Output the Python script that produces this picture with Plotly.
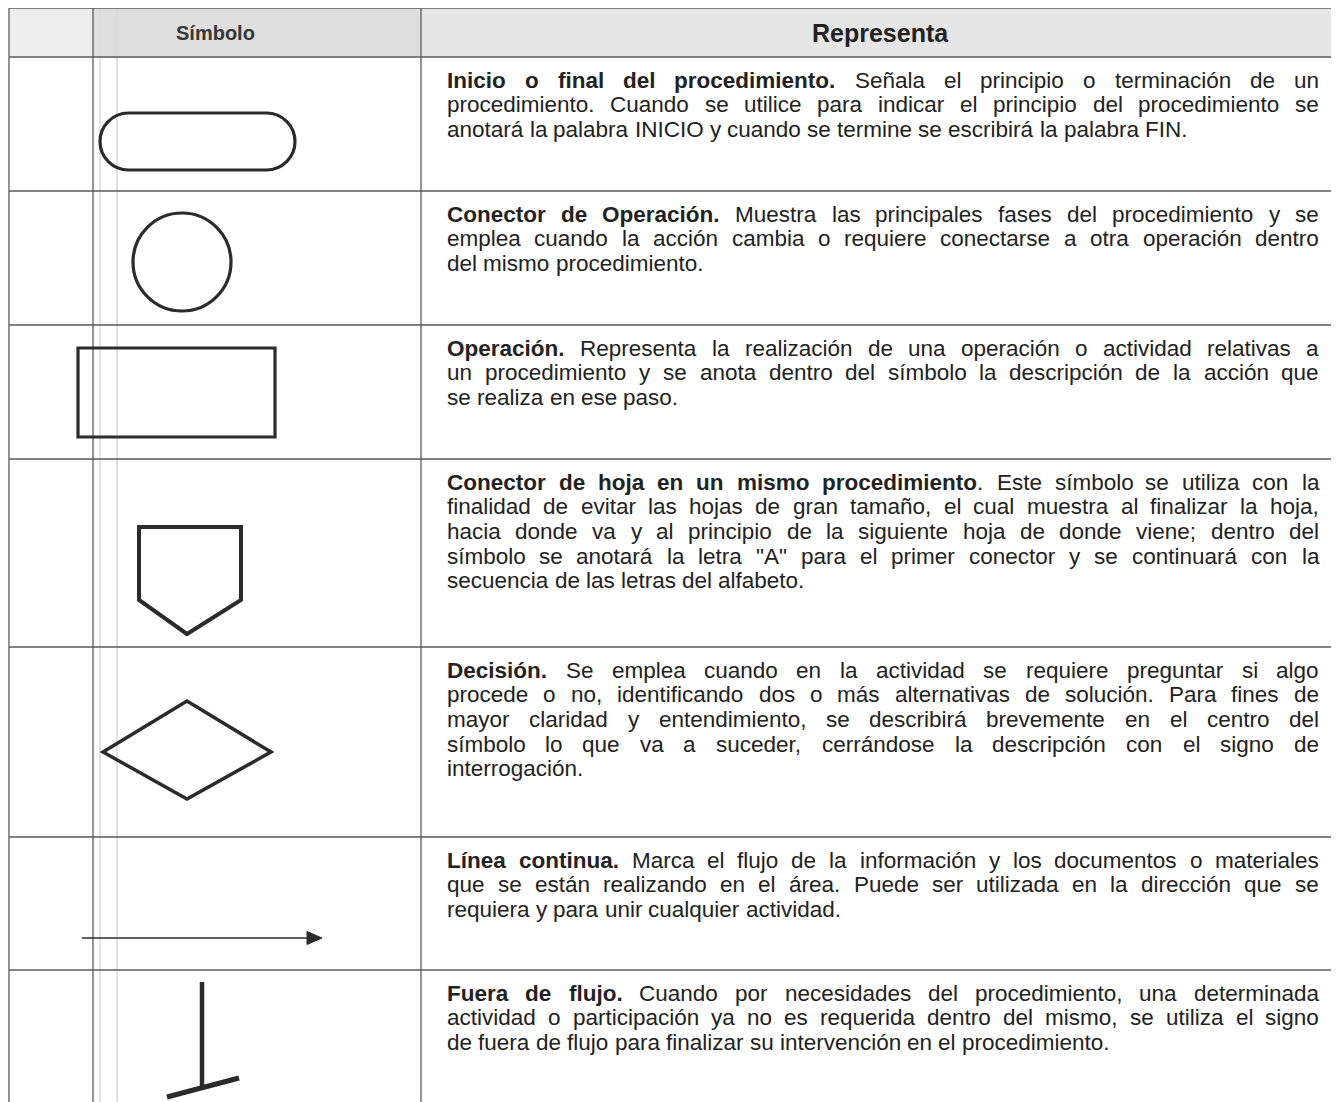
import plotly.graph_objects as go

# ---------------- data ----------------
HEADERS = ["Símbolo", "Representa"]

SYMBOLS = ["terminal", "connector", "process", "offpage", "decision", "flowline", "outflow"]

DESCRIPTIONS = [
    ["**Inicio o final del procedimiento.** Señala el principio o terminación de un",
     "procedimiento. Cuando se utilice para indicar el principio del procedimiento se",
     "anotará la palabra INICIO y cuando se termine se escribirá la palabra FIN."],
    ["**Conector de Operación.** Muestra las principales fases del procedimiento y se",
     "emplea cuando la acción cambia o requiere conectarse a otra operación dentro",
     "del mismo procedimiento."],
    ["**Operación.** Representa la realización de una operación o actividad relativas a",
     "un procedimiento y se anota dentro del símbolo la descripción de la acción que",
     "se realiza en ese paso."],
    ["**Conector de hoja en un mismo procedimiento**. Este símbolo se utiliza con la",
     "finalidad de evitar las hojas de gran tamaño, el cual muestra al finalizar la hoja,",
     "hacia donde va y al principio de la siguiente hoja de donde viene; dentro del",
     "símbolo se anotará la letra \"A\" para el primer conector y se continuará con la",
     "secuencia de las letras del alfabeto."],
    ["**Decisión.** Se emplea cuando en la actividad se requiere preguntar si algo",
     "procede o no, identificando dos o más alternativas de solución. Para fines de",
     "mayor claridad y entendimiento, se describirá brevemente en el centro del",
     "símbolo lo que va a suceder, cerrándose la descripción con el signo de",
     "interrogación."],
    ["**Línea continua.** Marca el flujo de la información y los documentos o materiales",
     "que se están realizando en el área. Puede ser utilizada en la dirección que se",
     "requiera y para unir cualquier actividad."],
    ["**Fuera de flujo.** Cuando por necesidades del procedimiento, una determinada",
     "actividad o participación ya no es requerida dentro del mismo, se utiliza el signo",
     "de fuera de flujo para finalizar su intervención en el procedimiento."],
]

# ---------------- layout geometry (page pixels) ----------------
W, H = 1339, 1102
PAGE_MARGIN = 8          # default <body> margin of the html page
X_LEFT, X_INNER, X_DIV, X_RIGHT = 9, 93, 421, 1337
Y_TOP, Y_HEAD = 8, 57
ROW_EDGES = [57, 191, 325, 459, 647, 837, 970, 1102]
TEXT_X0, TEXT_X1 = 446, 1318
FIRST_LINE_OFFSET = 23
LINE_STEP = 24.7
FONT = "Liberation Sans, Arial, Helvetica, sans-serif"
BODY_SIZE = 22.5
INK = "#2b2b2b"
GRID = "#5a5a5a"

# Arial / Liberation Sans advance widths (1/1000 em)
_REG = dict(zip("abcdefghijklmnopqrstuvwxyz",
                [556, 556, 500, 556, 556, 278, 556, 556, 222, 222, 500, 222, 833,
                 556, 556, 556, 556, 333, 500, 278, 556, 500, 722, 500, 500, 500]))
_REG.update(dict(zip("ABCDEFGHIJKLMNOPQRSTUVWXYZ",
                     [667, 667, 722, 722, 667, 611, 778, 722, 278, 500, 667, 556, 833,
                      722, 778, 667, 778, 722, 667, 611, 722, 667, 944, 667, 667, 611])))
_REG.update({" ": 278, ".": 278, ",": 278, ";": 278, ":": 278, '"': 355, "-": 333,
             "(": 333, ")": 333})
_BOLD = dict(zip("abcdefghijklmnopqrstuvwxyz",
                 [556, 611, 556, 611, 556, 333, 611, 611, 278, 278, 556, 278, 889,
                  611, 611, 611, 611, 389, 556, 333, 611, 556, 778, 556, 556, 500]))
_BOLD.update(dict(zip("ABCDEFGHIJKLMNOPQRSTUVWXYZ",
                      [722, 722, 722, 722, 667, 611, 778, 722, 278, 556, 722, 611, 833,
                       722, 778, 667, 778, 722, 667, 611, 722, 667, 944, 667, 667, 611])))
_BOLD.update({" ": 278, ".": 278, ",": 278, ";": 333, ":": 333, '"': 474, "-": 333,
              "(": 333, ")": 333})
_ACC = {"á": "a", "é": "e", "í": "i", "ó": "o", "ú": "u", "ñ": "n",
        "Á": "A", "É": "E", "Í": "I", "Ó": "O", "Ú": "U", "Ñ": "N"}


def char_w(ch, bold):
    tab = _BOLD if bold else _REG
    ch = _ACC.get(ch, ch)
    return tab.get(ch, 556)


def parse_words(line):
    """Return list of words; each word is a list of (text, bold) chunks."""
    words, cur, bold, i = [], [], False, 0
    buf = ""
    while i < len(line):
        if line.startswith("**", i):
            if buf:
                cur.append((buf, bold))
                buf = ""
            bold = not bold
            i += 2
            continue
        ch = line[i]
        if ch == " ":
            if buf:
                cur.append((buf, bold))
                buf = ""
            if cur:
                words.append(cur)
                cur = []
        else:
            buf += ch
        i += 1
    if buf:
        cur.append((buf, bold))
    if cur:
        words.append(cur)
    return words


def word_width(word, size):
    return sum(char_w(c, b) for t, b in word for c in t) * size / 1000.0


def word_html(word):
    return "".join(f"<b>{t}</b>" if b else t for t, b in word)


annotations = []
shapes = []

# ---------------- header background ----------------
shapes.append(dict(type="rect", x0=X_LEFT, x1=X_INNER, y0=Y_TOP, y1=Y_HEAD,
                   fillcolor="#ededed", line=dict(width=0), layer="below"))
shapes.append(dict(type="rect", x0=X_INNER, x1=X_DIV, y0=Y_TOP, y1=Y_HEAD,
                   fillcolor="#dedede", line=dict(width=0), layer="below"))
shapes.append(dict(type="rect", x0=X_DIV, x1=X_RIGHT, y0=Y_TOP, y1=Y_HEAD,
                   fillcolor="#e6e6e6", line=dict(width=0), layer="below"))

# faint scanner lines
for xf in (100, 117):
    shapes.append(dict(type="line", x0=xf, x1=xf, y0=0, y1=H,
                       line=dict(color="#d8d8d8", width=1.5)))

# ---------------- grid ----------------
for yy in [Y_TOP] + ROW_EDGES[:-1]:
    shapes.append(dict(type="line", x0=X_LEFT, x1=X_RIGHT, y0=yy, y1=yy,
                       line=dict(color=GRID, width=1.3)))
for xx, ys in [(X_LEFT, Y_TOP), (X_INNER, 0), (X_DIV, Y_TOP), (X_RIGHT, Y_TOP)]:
    shapes.append(dict(type="line", x0=xx, x1=xx, y0=ys, y1=H,
                       line=dict(color=GRID, width=1.3)))

# ---------------- header text ----------------
annotations.append(dict(x=215, y=33, text="<b>" + HEADERS[0] + "</b>", showarrow=False,
                        xanchor="center", yanchor="middle",
                        font=dict(family=FONT, size=20, color="#363636")))
annotations.append(dict(x=880, y=33, text="<b>" + HEADERS[1] + "</b>", showarrow=False,
                        xanchor="center", yanchor="middle",
                        font=dict(family=FONT, size=25, color="#222222")))

# ---------------- body text (justified word by word) ----------------
for r, lines in enumerate(DESCRIPTIONS):
    top = ROW_EDGES[r]
    for li, line in enumerate(lines):
        y = top + FIRST_LINE_OFFSET + li * LINE_STEP
        words = parse_words(line)
        widths = [word_width(w, BODY_SIZE) for w in words]
        last = li == len(lines) - 1
        space = 278 * BODY_SIZE / 1000.0
        if last or len(words) < 2:
            gap = space
        else:
            gap = (TEXT_X1 - TEXT_X0 - sum(widths)) / (len(words) - 1)
            gap = max(gap, space)
        x = TEXT_X0
        for w, wd in zip(words, widths):
            annotations.append(dict(x=x, y=y, text=word_html(w), showarrow=False,
                                    xanchor="left", yanchor="middle", borderpad=0,
                                    font=dict(family=FONT, size=BODY_SIZE, color="#222222")))
            x += wd + gap

# ---------------- symbols ----------------
def stadium(x0, x1, y0, y1):
    r = (y1 - y0) / 2.0
    k = 0.5523 * r
    cy = (y0 + y1) / 2.0
    a, b = x0 + r, x1 - r
    return (f"M {a},{y0} L {b},{y0} "
            f"C {b + k},{y0} {x1},{cy - k} {x1},{cy} "
            f"C {x1},{cy + k} {b + k},{y1} {b},{y1} "
            f"L {a},{y1} "
            f"C {a - k},{y1} {x0},{cy + k} {x0},{cy} "
            f"C {x0},{cy - k} {a - k},{y0} {a},{y0} Z")


def poly(pts):
    return "M " + " L ".join(f"{px},{py}" for px, py in pts) + " Z"


sym_line = dict(color=INK, width=3.2)
for name in SYMBOLS:
    if name == "terminal":
        shapes.append(dict(type="path", path=stadium(100, 295, 113, 170), line=sym_line))
    elif name == "connector":
        shapes.append(dict(type="circle", x0=133, x1=231, y0=213, y1=311, line=sym_line))
    elif name == "process":
        shapes.append(dict(type="rect", x0=78, x1=275, y0=348, y1=437, line=sym_line))
    elif name == "offpage":
        shapes.append(dict(type="path",
                           path=poly([(139, 527), (241, 527), (241, 600), (187, 634), (139, 600)]),
                           line=dict(color=INK, width=4)))
    elif name == "decision":
        shapes.append(dict(type="path",
                           path=poly([(103, 752), (187, 701), (271, 752), (187, 799)]),
                           line=dict(color=INK, width=3.5)))
    elif name == "flowline":
        shapes.append(dict(type="line", x0=82, x1=309, y0=938, y1=938,
                           line=dict(color=INK, width=1.6)))
        shapes.append(dict(type="path", path=poly([(307, 931.5), (322, 938), (307, 944.5)]),
                           fillcolor=INK, line=dict(color=INK, width=1)))
    elif name == "outflow":
        shapes.append(dict(type="line", x0=202, x1=202, y0=982, y1=1088,
                           line=dict(color=INK, width=4.5)))
        shapes.append(dict(type="line", x0=167, x1=239, y0=1097, y1=1078,
                           line=dict(color=INK, width=5)))

fig = go.Figure()
fig.update_layout(
    width=W - PAGE_MARGIN, height=H - PAGE_MARGIN,
    margin=dict(l=0, r=0, t=0, b=0),
    paper_bgcolor="white", plot_bgcolor="white",
    xaxis=dict(range=[PAGE_MARGIN, W], visible=False, fixedrange=True),
    yaxis=dict(range=[H, PAGE_MARGIN], visible=False, fixedrange=True),
    shapes=shapes,
    annotations=annotations,
    showlegend=False,
)
fig.write_html("out.html", config={"displayModeBar": False})
